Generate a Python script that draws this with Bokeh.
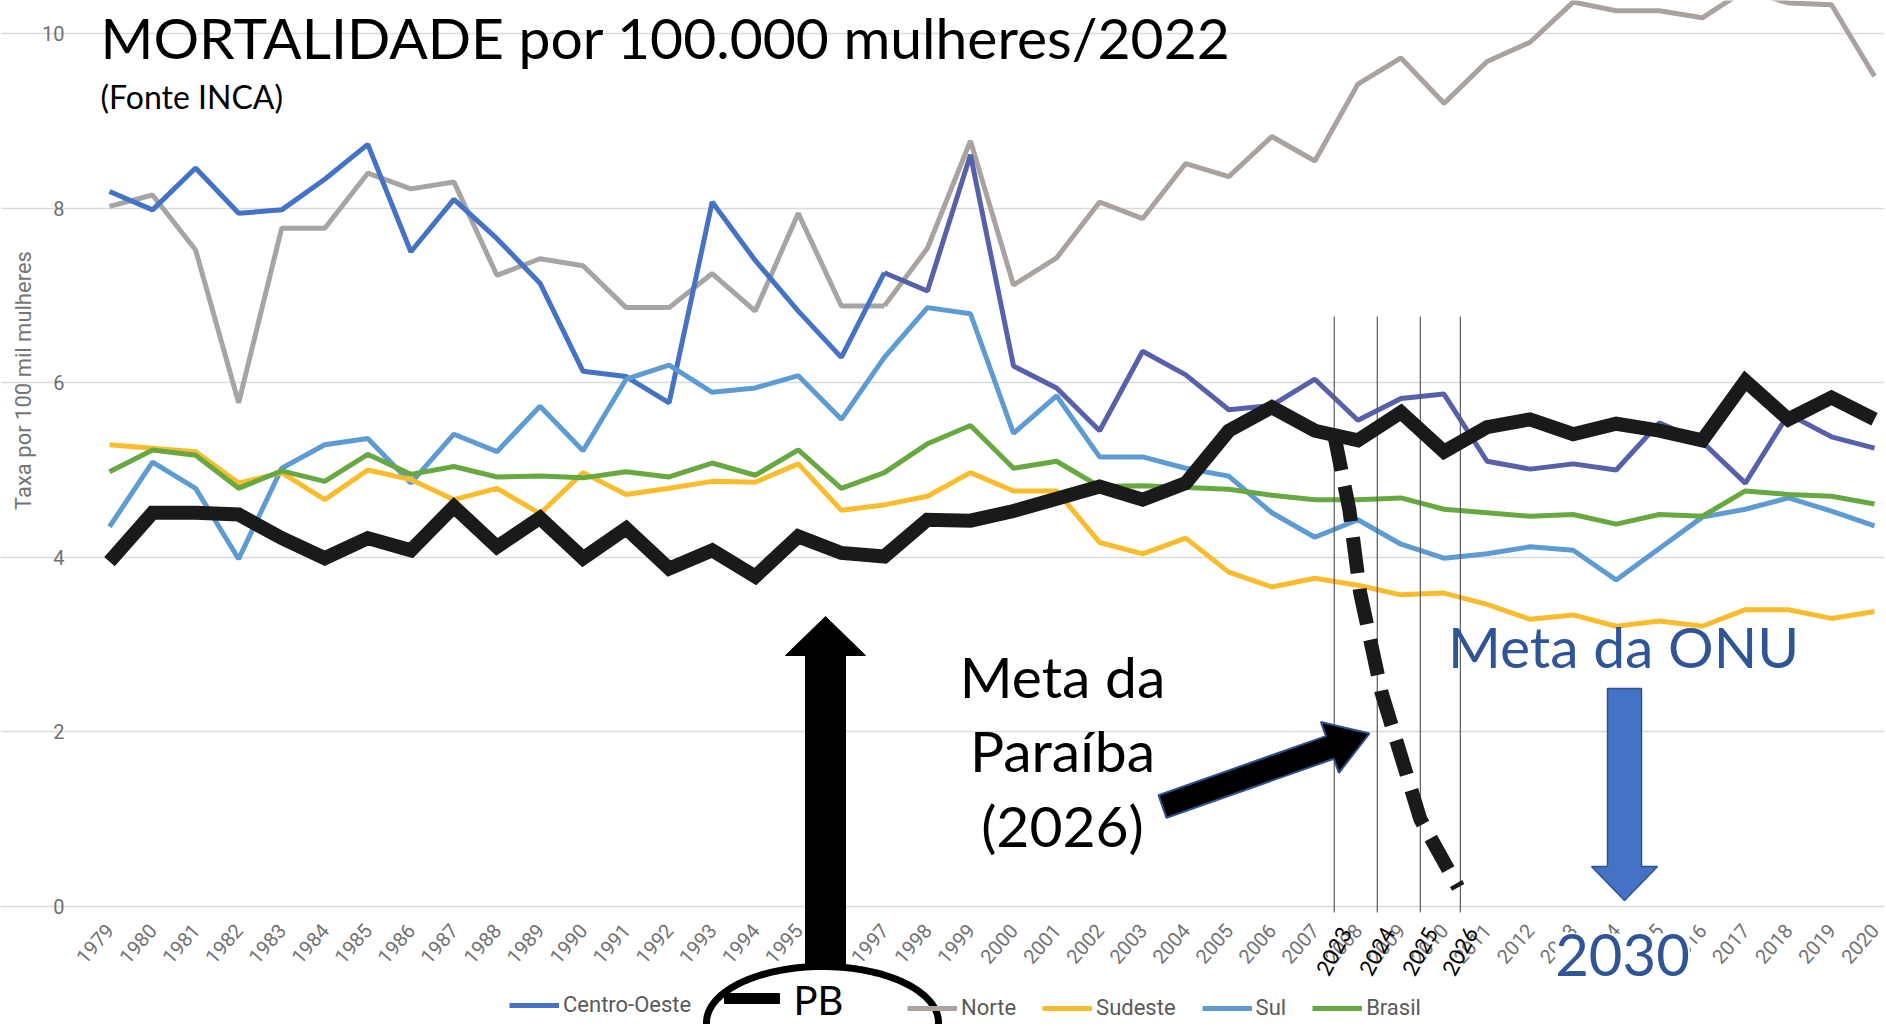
import math
import numpy as np
from bokeh.plotting import figure
from bokeh.models import (Range1d, FixedTicker, Label, PolyAnnotation, Legend,
                          LegendItem)
from bokeh.embed import file_html
from bokeh.resources import INLINE

# ---------------- data ----------------
years = list(range(1979, 2021))
centro_oeste = [8.19, 7.98, 8.46, 7.94, 7.98, 8.33, 8.73, 7.50, 8.10, 7.65,
                7.14, 6.13, 6.07, 5.77, 8.07, 7.40, 6.82, 6.29, 7.26, 7.05,
                8.61, 6.19, 5.94, 5.45, 6.36, 6.09, 5.69, 5.74, 6.04, 5.57,
                5.82, 5.87, 5.10, 5.01, 5.07, 5.00, 5.54, 5.32, 4.85, 5.64,
                5.38, 5.25]
norte = [8.02, 8.15, 7.52, 5.77, 7.77, 7.77, 8.40, 8.22, 8.30, 7.23,
         7.42, 7.34, 6.86, 6.86, 7.25, 6.82, 7.94, 6.88, 6.88, 7.54,
         8.77, 7.12, 7.43, 8.07, 7.88, 8.51, 8.36, 8.82, 8.54, 9.42,
         9.72, 9.20, 9.68, 9.90, 10.36, 10.26, 10.26, 10.18, 10.50, 10.35,
         10.33, 9.51]
sudeste = [5.29, 5.25, 5.21, 4.85, 4.97, 4.66, 5.00, 4.89, 4.66, 4.79,
           4.50, 4.97, 4.72, 4.79, 4.87, 4.86, 5.07, 4.54, 4.60, 4.70,
           4.97, 4.76, 4.76, 4.17, 4.04, 4.22, 3.83, 3.66, 3.76, 3.68,
           3.57, 3.59, 3.46, 3.29, 3.34, 3.21, 3.27, 3.21, 3.40, 3.40,
           3.30, 3.38]
sul = [4.35, 5.09, 4.79, 3.98, 5.02, 5.29, 5.36, 4.85, 5.41, 5.21,
       5.73, 5.22, 6.04, 6.20, 5.89, 5.94, 6.08, 5.58, 6.29, 6.86,
       6.79, 5.42, 5.85, 5.15, 5.15, 5.02, 4.93, 4.51, 4.23, 4.43,
       4.15, 3.99, 4.04, 4.12, 4.08, 3.74, 4.10, 4.46, 4.55, 4.68,
       4.53, 4.36]
brasil = [4.98, 5.23, 5.17, 4.79, 4.99, 4.87, 5.18, 4.95, 5.04, 4.92,
          4.93, 4.91, 4.98, 4.92, 5.08, 4.94, 5.23, 4.79, 4.97, 5.30,
          5.51, 5.02, 5.10, 4.81, 4.82, 4.80, 4.78, 4.71, 4.66, 4.66,
          4.68, 4.55, 4.51, 4.47, 4.49, 4.38, 4.49, 4.47, 4.76, 4.72,
          4.70, 4.61]
pb = [3.95, 4.51, 4.51, 4.49, 4.22, 3.99, 4.22, 4.08, 4.58, 4.12,
      4.45, 3.99, 4.33, 3.87, 4.08, 3.78, 4.24, 4.05, 4.01, 4.43,
      4.42, 4.53, 4.67, 4.81, 4.66, 4.85, 5.45, 5.72, 5.45, 5.34,
      5.66, 5.21, 5.49, 5.58, 5.41, 5.53, 5.45, 5.34, 6.02, 5.58,
      5.83, 5.58]

# meta (Paraíba) projection drawn over the chart
meta_labels = ["2023", "2024", "2025", "2026"]
meta_pos = [2007.45, 2008.45, 2009.45, 2010.38]
meta_path_x = [2007.45, 2007.8, 2008.05, 2008.55, 2009.45, 2010.33]
meta_path_y = [5.40, 4.55, 3.60, 2.45, 1.00, 0.22]

y_ticks = [0, 2, 4, 6, 8, 10]

# ---------------- layout helpers (canvas pixels -> data) ----------------
W, H = 1884, 1024
SX = (1874 - 109) / 41.0
SY = 87.3


def fx(px):
    return 1979 + (px - 109.0) / SX


def fy(py):
    return (906.0 - py) / SY


def to_data(points):
    return [fx(a) for a, b in points], [fy(b) for a, b in points]


p = figure(width=W, height=H, output_backend="svg", toolbar_location=None,
           x_range=Range1d(fx(0), fx(W)), y_range=Range1d(fy(H), fy(0)),
           min_border=0, min_border_left=0, min_border_right=0,
           min_border_top=0, min_border_bottom=0)
p.outline_line_color = None
p.background_fill_color = "white"
p.border_fill_color = "white"

p.xgrid.grid_line_color = None
p.ygrid.ticker = FixedTicker(ticks=y_ticks)
p.ygrid.grid_line_color = "#DADADA"
p.ygrid.grid_line_width = 1.6
p.ygrid.bounds = (fx(88), fx(W))

p.yaxis.fixed_location = fx(88)
p.yaxis.ticker = FixedTicker(ticks=y_ticks)
p.yaxis.axis_line_color = None
p.yaxis.major_tick_line_color = None
p.yaxis.minor_tick_line_color = None
p.yaxis.major_tick_out = 0
p.yaxis.minor_tick_out = 0
p.yaxis.major_label_standoff = 24
p.yaxis.major_label_text_font = "Roboto"
p.yaxis.major_label_text_font_size = "20px"
p.yaxis.major_label_text_color = "#707070"

p.xaxis.fixed_location = fy(906)
p.xaxis.ticker = FixedTicker(ticks=years)
p.xaxis.axis_line_color = None
p.xaxis.major_tick_line_color = None
p.xaxis.minor_tick_line_color = None
p.xaxis.major_tick_out = 0
p.xaxis.minor_tick_out = 0
p.xaxis.major_label_orientation = 0.85
p.xaxis.major_label_standoff = 20
p.xaxis.major_label_text_font = "Roboto"
p.xaxis.major_label_text_font_size = "20px"
p.xaxis.major_label_text_color = "#727272"

# ---------------- series ----------------
r_norte_l = p.line(years[:19], norte[:19], line_color="#A5A5A5", line_width=5)
r_norte_r = p.line(years[18:], norte[18:], line_color="#AAA29E", line_width=5)
r_co_l = p.line(years[:19], centro_oeste[:19], line_color="#4472C4", line_width=5)
r_co_r = p.line(years[18:], centro_oeste[18:], line_color="#5661A9", line_width=5)
r_sul = p.line(years, sul, line_color="#5F9BD3", line_width=5)
r_sud = p.line(years, sudeste, line_color="#F8BC2C", line_width=5)
r_br = p.line(years, brasil, line_color="#67A840", line_width=5)

# projection guide lines
p.segment(x0=meta_pos, x1=meta_pos, y0=[fy(912)] * 4, y1=[fy(316)] * 4,
          line_color="#5A5A5A", line_width=1.2)

r_pb = p.line(years, pb, line_color="#1A1A1A", line_width=14, line_join="miter")
p.line(meta_path_x, meta_path_y, line_color="#1A1A1A", line_width=14,
       line_dash="36 16", line_cap="butt")

# ---------------- legends ----------------
leg_kw = dict(orientation="horizontal", padding=0, margin=0, spacing=26,
              glyph_width=50, glyph_height=20, label_standoff=4,
              label_text_font="Roboto", label_text_font_size="22px",
              label_text_color="#595959", border_line_alpha=0,
              background_fill_alpha=0)
leg1 = Legend(items=[LegendItem(label="Centro-Oeste", renderers=[r_co_l])],
              location=(509, H - 1017), **leg_kw)
leg2 = Legend(items=[LegendItem(label="Norte", renderers=[r_norte_r]),
                     LegendItem(label="Sudeste", renderers=[r_sud]),
                     LegendItem(label="Sul", renderers=[r_sul]),
                     LegendItem(label="Brasil", renderers=[r_br])],
              location=(907, H - 1020), **leg_kw)
p.add_layout(leg1)
p.add_layout(leg2)

# ---------------- annotations ----------------
# y axis title
p.add_layout(Label(x=fx(23), y=fy(380), text="Taxa por 100 mil mulheres",
                   angle=math.pi / 2, text_align="center", text_baseline="middle",
                   text_font="Roboto", text_font_size="22px", text_color="#757575"))

# title
p.add_layout(Label(x=fx(100), y=fy(36), text="MORTALIDADE por 100.000 mulheres/2022",
                   text_align="left", text_baseline="middle",
                   text_font="Lato", text_font_size="57px", text_color="#000000"))
p.add_layout(Label(x=fx(100), y=fy(96), text="(Fonte INCA)",
                   text_align="left", text_baseline="middle",
                   text_font="Lato", text_font_size="32px", text_color="#000000"))

# overlay year labels of the meta
for lab, xp in zip(meta_labels, meta_pos):
    p.add_layout(Label(x=xp, y=fy(951), text=lab, angle=math.radians(62),
                       text_align="center", text_baseline="middle",
                       text_font="Lato", text_font_size="22px", text_color="#000000"))

# black up arrow
bx, by = to_data([(805, 968), (805, 655), (785, 655), (825, 616), (865, 655),
                  (845, 655), (845, 968)])
p.add_layout(PolyAnnotation(xs=bx, ys=by, fill_color="#000000", fill_alpha=1,
                            line_color="#000000", line_alpha=1, line_width=1))

# ellipse around PB legend entry
t = np.linspace(0, 2 * np.pi, 140)
ex, ey = to_data(list(zip(822 + 116 * np.cos(t), 1022 + 56 * np.sin(t))))
p.add_layout(PolyAnnotation(xs=ex, ys=ey, fill_color="white", fill_alpha=1,
                            line_color="#000000", line_alpha=1, line_width=7))
dx, dy = to_data([(724, 993), (779, 993), (779, 1003), (724, 1003)])
p.add_layout(PolyAnnotation(xs=dx, ys=dy, fill_color="#000000", fill_alpha=1,
                            line_color="#000000", line_alpha=1, line_width=1))
p.add_layout(Label(x=fx(818), y=fy(999), text="PB", text_align="center",
                   text_baseline="middle", text_font="Lato",
                   text_font_size="40px", text_color="#000000"))

# Paraíba meta arrow
T = np.array([1162.0, 806.0])
P = np.array([1369.0, 733.0])
u = (P - T) / np.linalg.norm(P - T)
n = np.array([-u[1], u[0]])
B = P - 42 * u
pts = [T + 12 * n, B + 12 * n, B + 27 * n, P, B - 27 * n, B - 12 * n, T - 12 * n]
ax, ay = to_data([(float(a), float(b)) for a, b in pts])
p.add_layout(PolyAnnotation(xs=ax, ys=ay, fill_color="#000000", fill_alpha=1,
                            line_color="#2F528F", line_alpha=1, line_width=2))

p.add_layout(Label(x=fx(1062), y=fy(750), text="Meta da\nParaíba\n(2026)",
                   text_align="center", text_baseline="middle", text_line_height=1.1,
                   text_font="Lato", text_font_size="57px", text_color="#000000"))

# UN meta
p.add_layout(Label(x=fx(1623), y=fy(645), text="Meta da ONU",
                   text_align="center", text_baseline="middle",
                   text_font="Lato", text_font_size="57px", text_color="#2F5597"))
dax, day = to_data([(1607, 688), (1641, 688), (1641, 866), (1657, 866), (1624, 900),
                    (1591, 866), (1607, 866)])
p.add_layout(PolyAnnotation(xs=dax, ys=day, fill_color="#4472C4", fill_alpha=1,
                            line_color="#2F528F", line_alpha=1, line_width=1.5))
p.add_layout(Label(x=fx(1622), y=fy(954), text="2030", text_align="center",
                   text_baseline="middle", text_font="Lato", text_font_size="58px",
                   text_color="#2F5597", background_fill_color="white",
                   background_fill_alpha=1))

open("out.html", "w").write(file_html(p, INLINE))
